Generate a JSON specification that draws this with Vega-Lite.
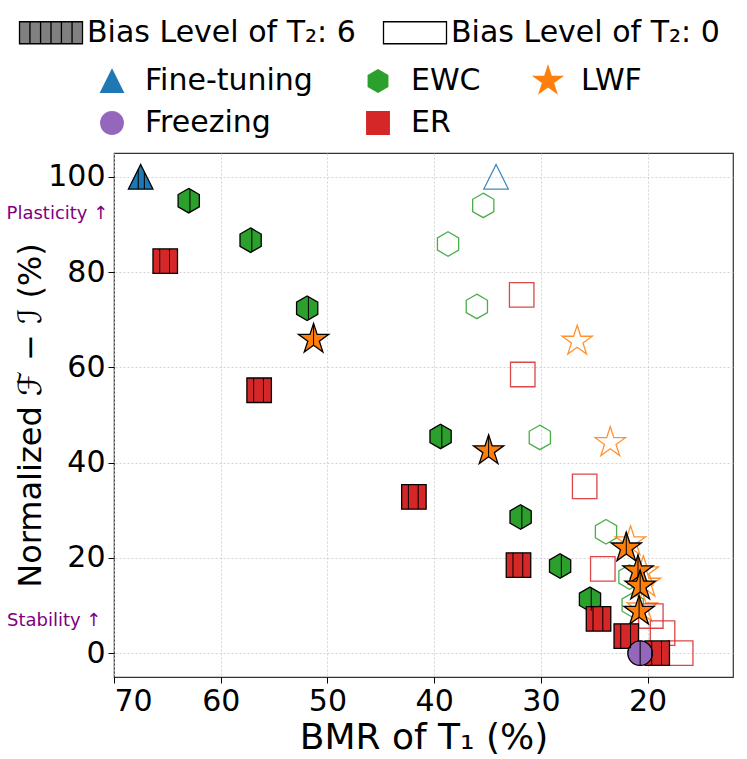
{
  "$schema": "https://vega.github.io/schema/vega-lite/v6.json",
  "width": 619,
  "height": 524,
  "autosize": "none",
  "padding": {"left": 114, "top": 153, "right": 14, "bottom": 82},
  "background": "white",
  "config": {
    "font": "DejaVu Sans",
    "view": {"stroke": "#333333", "strokeWidth": 1.2},
    "axis": {
      "domain": false,
      "grid": true,
      "gridDash": [2, 2],
      "gridColor": "#c8c8c8",
      "gridWidth": 0.8,
      "tickColor": "black",
      "tickSize": 6,
      "tickWidth": 1,
      "labelColor": "black",
      "labelFontSize": 30,
      "labelPadding": 3,
      "titleColor": "black",
      "titleFontWeight": "normal",
      "titleFontSize": 36
    },
    "legend": {
      "labelFont": "DejaVu Sans",
      "labelColor": "black",
      "labelFontSize": 30,
      "labelLimit": 500
    }
  },
  "datasets": {
    "pts": [
      {"method": "Fine-tuning", "bias": "0", "bmr": 34.2, "fi": 100},
      {"method": "EWC", "bias": "0", "bmr": 35.4, "fi": 94.0},
      {"method": "EWC", "bias": "0", "bmr": 38.7, "fi": 85.9},
      {"method": "EWC", "bias": "0", "bmr": 36.0, "fi": 72.8},
      {"method": "EWC", "bias": "0", "bmr": 30.1, "fi": 45.3},
      {"method": "EWC", "bias": "0", "bmr": 23.9, "fi": 25.5},
      {"method": "EWC", "bias": "0", "bmr": 21.7, "fi": 16.0},
      {"method": "EWC", "bias": "0", "bmr": 21.4, "fi": 10.1},
      {"method": "LWF", "bias": "0", "bmr": 26.6, "fi": 65.5},
      {"method": "LWF", "bias": "0", "bmr": 23.5, "fi": 44.2},
      {"method": "LWF", "bias": "0", "bmr": 21.6, "fi": 23.4},
      {"method": "LWF", "bias": "0", "bmr": 20.4, "fi": 17.1},
      {"method": "LWF", "bias": "0", "bmr": 20.2, "fi": 14.7},
      {"method": "LWF", "bias": "0", "bmr": 20.5, "fi": 9.5},
      {"method": "ER", "bias": "0", "bmr": 31.8, "fi": 75.2},
      {"method": "ER", "bias": "0", "bmr": 31.7, "fi": 58.5},
      {"method": "ER", "bias": "0", "bmr": 25.9, "fi": 35.0},
      {"method": "ER", "bias": "0", "bmr": 24.2, "fi": 17.7},
      {"method": "ER", "bias": "0", "bmr": 19.7, "fi": 7.8},
      {"method": "ER", "bias": "0", "bmr": 18.6, "fi": 4.2},
      {"method": "ER", "bias": "0", "bmr": 16.9, "fi": 0},
      {"method": "Freezing", "bias": "0", "bmr": 20.7, "fi": 0},
      {"method": "Fine-tuning", "bias": "6", "bmr": 67.5, "fi": 100},
      {"method": "EWC", "bias": "6", "bmr": 63.0, "fi": 95.0},
      {"method": "EWC", "bias": "6", "bmr": 57.2, "fi": 86.7},
      {"method": "EWC", "bias": "6", "bmr": 51.9, "fi": 72.4},
      {"method": "EWC", "bias": "6", "bmr": 39.4, "fi": 45.5},
      {"method": "EWC", "bias": "6", "bmr": 31.9, "fi": 28.6},
      {"method": "EWC", "bias": "6", "bmr": 28.2, "fi": 18.3},
      {"method": "EWC", "bias": "6", "bmr": 25.4, "fi": 11.3},
      {"method": "LWF", "bias": "6", "bmr": 51.3, "fi": 65.9},
      {"method": "LWF", "bias": "6", "bmr": 34.9, "fi": 42.5},
      {"method": "LWF", "bias": "6", "bmr": 22.0, "fi": 22.1},
      {"method": "LWF", "bias": "6", "bmr": 20.9, "fi": 17.3},
      {"method": "LWF", "bias": "6", "bmr": 20.7, "fi": 14.1},
      {"method": "LWF", "bias": "6", "bmr": 20.8, "fi": 8.8},
      {"method": "ER", "bias": "6", "bmr": 65.2, "fi": 82.3},
      {"method": "ER", "bias": "6", "bmr": 56.4, "fi": 55.2},
      {"method": "ER", "bias": "6", "bmr": 41.9, "fi": 32.8},
      {"method": "ER", "bias": "6", "bmr": 32.1, "fi": 18.5},
      {"method": "ER", "bias": "6", "bmr": 24.6, "fi": 7.2},
      {"method": "ER", "bias": "6", "bmr": 22.0, "fi": 3.6},
      {"method": "ER", "bias": "6", "bmr": 19.1, "fi": 0},
      {"method": "Freezing", "bias": "6", "bmr": 20.7, "fi": 0}
    ],
    "notes": [
      {"label": "Plasticity ↑", "bmr": 75.3, "fi": 92.2},
      {"label": "Stability ↑", "bmr": 75.6, "fi": 6.7}
    ]
  },
  "data": {"name": "pts"},
  "layer": [
    {
      "transform": [{"filter": "datum.bias == '0'"}],
      "mark": {"type": "point", "filled": false, "strokeOpacity": 0.85, "opacity": 1, "size": 600},
      "encoding": {
        "x": {"field": "bmr", "type": "quantitative",
              "scale": {"domain": [12, 70], "reverse": true, "nice": false, "zero": false},
              "axis": {"values": [20, 30, 40, 50, 60, 70], "title": "BMR of T₁ (%)", "titlePadding": 4}},
        "y": {"field": "fi", "type": "quantitative",
              "scale": {"domain": [-5, 105], "nice": false, "zero": false},
              "axis": {"values": [0, 20, 40, 60, 80, 100], "title": "Normalized ℱ − ℐ (%)", "titlePadding": 0, "titleFontSize": 32}},
        "shape": {"field": "method", "type": "nominal"},
        "stroke": {"field": "method", "type": "nominal", "legend": null,
                   "scale": {"domain": ["Fine-tuning", "EWC", "LWF", "Freezing", "ER"],
                             "range": ["#1f77b4", "#2ca02c", "#ff7f0e", "#9467bd", "#d62728"]}},
        "strokeWidth": {"field": "bias", "type": "nominal",
                        "scale": {"domain": ["6", "0"], "range": [1.3, 1.3]},
                        "legend": {"orient": "none", "legendX": -83.5, "legendY": -141, "direction": "horizontal",
                                   "title": null, "symbolSize": 1550, "labelOffset": 15.5, "columnPadding": 24,
                                   "symbolType": "M-1.6,-0.56L1.6,-0.56L1.6,0.56L-1.6,0.56ZM-1.07,-0.56L-1.07,0.56M-0.53,-0.56L-0.53,0.56M0,-0.56L0,0.56M0.53,-0.56L0.53,0.56M1.07,-0.56L1.07,0.56",
                                   "symbolFillColor": "#808080", "symbolStrokeColor": "black", "symbolStrokeWidth": 1.5, "symbolOpacity": 1,
                                   "labelExpr": "'Bias Level of T₂: ' + datum.label",
                                   "encode": {"symbols": {"update": {
                                     "shape": {"signal": "datum.value == '6' ? 'M-1.6,-0.56L1.6,-0.56L1.6,0.56L-1.6,0.56ZM-1.07,-0.56L-1.07,0.56M-0.53,-0.56L-0.53,0.56M0,-0.56L0,0.56M0.53,-0.56L0.53,0.56M1.07,-0.56L1.07,0.56' : 'M-1.6,-0.56L1.6,-0.56L1.6,0.56L-1.6,0.56Z'"},
                                     "fill": {"value": "#808080"},
                                     "fillOpacity": {"signal": "datum.value == '6' ? 1 : 0"},
                                     "opacity": {"value": 1},
                                     "stroke": {"value": "black"},
                                     "strokeOpacity": {"value": 1},
                                     "strokeWidth": {"value": 1.5}}}}}}
      }
    },
    {
      "transform": [{"filter": "datum.bias == '6'"}],
      "mark": {"type": "point", "filled": true, "stroke": "black", "opacity": 1, "size": 600},
      "encoding": {
        "x": {"field": "bmr", "type": "quantitative"},
        "y": {"field": "fi", "type": "quantitative"},
        "shape": {"field": "method", "type": "nominal",
                  "scale": {"domain": ["Fine-tuning", "EWC", "LWF", "Freezing", "ER"],
                            "range": ["M0,-1L1,1L-1,1Z",
                                      "M0,-1L0.866,-0.5L0.866,0.5L0,1L-0.866,0.5L-0.866,-0.5Z",
                                      "M0,-1.3L0.292,-0.402L1.236,-0.402L0.472,0.154L0.764,1.052L0,0.497L-0.764,1.052L-0.472,0.154L-1.236,-0.402L-0.292,-0.402Z",
                                      "circle",
                                      "M-1,-1L1,-1L1,1L-1,1Z"]},
                  "legend": {"orient": "none", "legendX": -17, "legendY": -87, "columns": 3, "direction": "horizontal",
                             "title": null, "symbolSize": 500, "labelOffset": 18, "columnPadding": 50, "rowPadding": 12,
                             "encode": {"symbols": {"update": {"stroke": {"value": "transparent"}, "strokeWidth": {"value": 0}}}}}},
        "fill": {"field": "method", "type": "nominal",
                 "scale": {"domain": ["Fine-tuning", "EWC", "LWF", "Freezing", "ER"],
                           "range": ["#1f77b4", "#2ca02c", "#ff7f0e", "#9467bd", "#d62728"]},
                 "legend": {"orient": "none", "legendX": -17, "legendY": -87, "columns": 3, "direction": "horizontal",
                            "title": null, "symbolSize": 500, "labelOffset": 18, "columnPadding": 50, "rowPadding": 12,
                            "encode": {"symbols": {"update": {"stroke": {"value": "transparent"}, "strokeWidth": {"value": 0}}}}}},
        "strokeWidth": {"field": "bias", "type": "nominal",
                        "scale": {"domain": ["6", "0"], "range": [1.3, 1.3]},
                        "legend": {"orient": "none", "legendX": -83.5, "legendY": -141, "direction": "horizontal",
                                   "title": null, "symbolSize": 1550, "labelOffset": 15.5, "columnPadding": 24,
                                   "symbolType": "M-1.6,-0.56L1.6,-0.56L1.6,0.56L-1.6,0.56ZM-1.07,-0.56L-1.07,0.56M-0.53,-0.56L-0.53,0.56M0,-0.56L0,0.56M0.53,-0.56L0.53,0.56M1.07,-0.56L1.07,0.56",
                                   "symbolFillColor": "#808080", "symbolStrokeColor": "black", "symbolStrokeWidth": 1.5, "symbolOpacity": 1,
                                   "labelExpr": "'Bias Level of T₂: ' + datum.label",
                                   "encode": {"symbols": {"update": {
                                     "shape": {"signal": "datum.value == '6' ? 'M-1.6,-0.56L1.6,-0.56L1.6,0.56L-1.6,0.56ZM-1.07,-0.56L-1.07,0.56M-0.53,-0.56L-0.53,0.56M0,-0.56L0,0.56M0.53,-0.56L0.53,0.56M1.07,-0.56L1.07,0.56' : 'M-1.6,-0.56L1.6,-0.56L1.6,0.56L-1.6,0.56Z'"},
                                     "fill": {"value": "#808080"},
                                     "fillOpacity": {"signal": "datum.value == '6' ? 1 : 0"},
                                     "opacity": {"value": 1},
                                     "stroke": {"value": "black"},
                                     "strokeOpacity": {"value": 1},
                                     "strokeWidth": {"value": 1.5}}}}}}
      }
    },
    {
      "transform": [{"filter": "datum.bias == '6' && datum.method == 'Fine-tuning'"}],
      "mark": {"type": "point", "filled": false, "stroke": "black", "strokeWidth": 1, "opacity": 1, "size": 600, "shape": "M-0.2,-0.6L-0.2,1M0.3,-0.4L0.3,1"},
      "encoding": {"x": {"field": "bmr", "type": "quantitative"}, "y": {"field": "fi", "type": "quantitative"}}
    },
    {
      "transform": [{"filter": "datum.bias == '6' && datum.method == 'EWC'"}],
      "mark": {"type": "point", "filled": false, "stroke": "black", "strokeWidth": 1, "opacity": 1, "size": 600, "shape": "M0.1,-0.94L0.1,0.94"},
      "encoding": {"x": {"field": "bmr", "type": "quantitative"}, "y": {"field": "fi", "type": "quantitative"}}
    },
    {
      "transform": [{"filter": "datum.bias == '6' && datum.method == 'LWF'"}],
      "mark": {"type": "point", "filled": false, "stroke": "black", "strokeWidth": 1, "opacity": 1, "size": 600, "shape": "M0,-1.3L0,0.497"},
      "encoding": {"x": {"field": "bmr", "type": "quantitative"}, "y": {"field": "fi", "type": "quantitative"}}
    },
    {
      "transform": [{"filter": "datum.bias == '6' && datum.method == 'ER'"}],
      "mark": {"type": "point", "filled": false, "stroke": "black", "strokeWidth": 1, "opacity": 1, "size": 600, "shape": "M-0.45,-1L-0.45,1M0.35,-1L0.35,1"},
      "encoding": {"x": {"field": "bmr", "type": "quantitative"}, "y": {"field": "fi", "type": "quantitative"}}
    },
    {
      "transform": [{"filter": "datum.bias == '6' && datum.method == 'Freezing'"}],
      "mark": {"type": "point", "filled": false, "stroke": "black", "strokeWidth": 1, "opacity": 1, "size": 600, "shape": "M0,-1L0,1"},
      "encoding": {"x": {"field": "bmr", "type": "quantitative"}, "y": {"field": "fi", "type": "quantitative"}}
    },
    {
      "data": {"name": "notes"},
      "mark": {"type": "text", "fontSize": 18, "color": "#800080", "align": "center", "baseline": "middle", "font": "DejaVu Sans"},
      "encoding": {
        "x": {"field": "bmr", "type": "quantitative"},
        "y": {"field": "fi", "type": "quantitative"},
        "text": {"field": "label", "type": "nominal"}
      }
    }
  ]
}
